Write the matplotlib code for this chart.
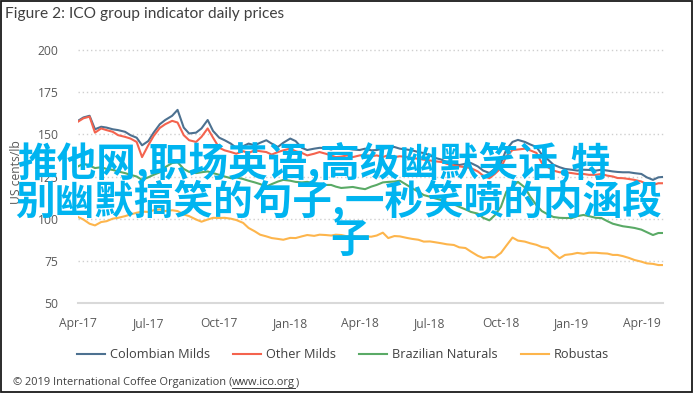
import matplotlib
matplotlib.use("Agg")
import matplotlib.pyplot as plt
import matplotlib.dates as mdates
from matplotlib.lines import Line2D
from matplotlib.patches import Rectangle
import pandas as pd

plt.rcParams['font.family'] = ['Open Sans', 'Noto Sans CJK SC', 'DejaVu Sans']

# ---------------- data ----------------
months = pd.date_range("2017-04-01", "2019-04-01", freq="MS")
days_in_month = [1, 8, 16, 23]
last_date = "2019-04-28"

other_milds = [
    157.5, 159.5, 160.5, 151.0,
    153.5, 152.5, 151.5, 149.5,
    148.5, 147.5, 145.5, 136.5,
    143.5, 149.0, 153.8, 156.0,
    158.0, 157.0, 149.5, 146.5,
    145.5, 148.5, 153.5, 148.0,
    142.0, 140.5, 139.5, 138.5,
    140.0, 139.0, 140.5, 140.0,
    139.5, 138.0, 139.5, 140.5,
    141.5, 140.0, 139.0, 137.5,
    138.5, 139.5, 138.5, 137.5,
    136.5, 136.8, 137.5, 136.5,
    137.5, 137.8, 137.0, 137.5,
    136.6, 137.5, 136.5, 137.0,
    136.6, 136.0, 135.5, 135.0,
    134.5, 134.0, 133.6, 132.5,
    131.5, 131.0, 130.5, 130.0,
    128.0, 125.5, 124.0, 126.5,
    130.0, 137.0, 140.7, 141.0,
    141.5, 140.5, 139.0, 133.0,
    130.5, 128.5, 127.5, 127.5,
    127.0, 126.5, 126.5, 126.0,
    126.0, 126.5, 125.5, 125.0,
    124.1, 124.0, 123.5, 123.0,
    122.0, 120.5, 120.0, 121.0,
    121.0,
]

colombian_milds = [
    158.0, 160.0, 161.0, 153.0,
    154.5, 154.0, 153.0, 152.5,
    151.5, 149.5, 148.0, 143.5,
    146.0, 151.0, 156.0, 158.5,
    161.0, 164.5, 154.0, 150.5,
    151.0, 153.5, 158.5, 152.0,
    148.0, 146.5, 144.5, 142.0,
    143.0, 144.5, 143.5, 145.0,
    146.5, 144.5, 142.5, 145.0,
    147.5, 146.0, 142.0, 140.7,
    141.5, 142.0, 141.9, 141.0,
    142.0, 142.5, 141.5, 141.0,
    140.7, 141.5, 140.5, 140.7,
    141.5, 142.0, 142.5, 141.5,
    141.0, 140.5, 139.5, 138.9,
    137.5, 136.0, 135.0, 133.5,
    132.5, 131.8, 132.5, 133.0,
    131.0, 128.5, 127.1, 129.5,
    133.0, 141.0, 145.5, 146.7,
    145.5, 144.0, 142.5, 138.0,
    135.0, 132.0, 130.5, 129.5,
    129.0, 128.5, 129.0, 128.9,
    128.5, 129.0, 128.5, 128.0,
    127.7, 127.5, 127.5, 127.0,
    126.5, 124.5, 123.0, 124.5,
    124.7,
]

brazilian_naturals = [
    131.0, 132.5, 131.5, 130.0,
    130.5, 129.5, 128.9, 128.0,
    127.0, 126.0, 125.0, 123.0,
    124.5, 126.0, 127.5, 130.5,
    133.0, 133.5, 129.5, 127.7,
    127.0, 127.5, 128.0, 127.0,
    126.0, 125.0, 124.0, 124.5,
    123.5, 122.5, 121.5, 120.5,
    119.0, 120.5, 122.0, 123.0,
    122.5, 121.8, 121.5, 121.8,
    121.0, 120.5, 120.0, 120.0,
    119.0, 118.2, 118.5, 118.8,
    118.0, 117.5, 119.0, 120.0,
    121.5, 121.8, 122.0, 122.5,
    120.0, 118.0, 116.0, 114.0,
    113.0, 112.0, 111.0, 109.5,
    108.5, 107.0, 105.5, 104.0,
    103.0, 100.5, 99.0, 102.0,
    107.0, 116.0, 119.0, 121.8,
    118.5, 113.0, 108.0, 104.5,
    102.5, 101.0, 100.5, 100.4,
    100.4, 101.5, 102.2, 101.5,
    100.5, 100.4, 98.5, 97.0,
    96.3, 95.5, 95.0, 94.5,
    93.5, 92.0, 90.3, 91.5,
    91.5,
]

robustas = [
    101.0, 99.5, 97.0, 96.0,
    98.0, 98.5, 100.0, 100.5,
    101.5, 102.5, 103.5, 104.2,
    104.0, 105.0, 105.5, 104.5,
    105.0, 104.5, 102.5, 101.5,
    99.5, 98.2, 99.5, 100.5,
    100.4, 100.5, 100.0, 99.2,
    97.5, 94.5, 92.5, 90.5,
    89.5, 88.5, 88.0, 87.5,
    88.6, 88.5, 89.5, 90.3,
    89.8, 90.5, 90.3, 90.0,
    90.5, 90.3, 89.5, 89.8,
    89.3, 89.5, 89.3, 90.0,
    91.7, 88.5, 89.7, 89.5,
    88.6, 88.0, 87.5, 86.4,
    86.5, 86.0, 85.4, 84.8,
    84.4, 83.0, 82.6, 80.5,
    78.0, 76.7, 77.3, 77.0,
    79.7, 84.0, 88.8, 87.0,
    86.4, 85.4, 84.5, 83.2,
    82.6, 79.5, 76.5, 78.5,
    79.0, 79.7, 79.2, 79.8,
    79.8, 79.5, 79.3, 78.5,
    78.5, 77.8, 76.7, 75.5,
    74.5, 73.5, 73.2, 72.5,
    72.5,
]

series_names = ["Colombian Milds", "Other Milds", "Brazilian Naturals", "Robustas"]
series_values = [colombian_milds, other_milds, brazilian_naturals, robustas]
series_colors = ["#4d7190", "#f4634e", "#5aaa66", "#fdb54c"]

y_ticks = [50, 75, 100, 125, 150, 175, 200]
x_tick_dates = pd.date_range("2017-04-01", "2019-04-01", freq="3MS")

title = "Figure 2: ICO group indicator daily prices"
y_label = "US cents/lb"
overlay_lines = ["推他网,职场英语,高级幽默笑话,特", "别幽默搞笑的句子,一秒笑喷的内涵段", "子"]
copyright_pre = "© 2019 International Coffee Organization ("
copyright_url = "www.ico.org"
copyright_post = ")"

dates = [m + pd.Timedelta(days=d - 1) for m in months for d in days_in_month]
dates.append(pd.Timestamp(last_date))

# ---------------- figure ----------------
W, H = 695, 394
fig = plt.figure(figsize=(W / 100, H / 100), dpi=100)
fig.patch.set_facecolor("white")

ax = fig.add_axes([78 / W, 1 - 303 / H, (663 - 78) / W, (303 - 50) / H])
for name, vals, col in zip(series_names, series_values, series_colors):
    ax.plot(dates, vals, color=col, lw=1.5, label=name, zorder=3)

ax.set_ylim(50, 200)
ax.set_xlim(pd.Timestamp("2017-04-01"), pd.Timestamp("2019-04-29"))
ax.set_yticks(y_ticks)
ax.set_xticks(x_tick_dates)
ax.xaxis.set_major_formatter(mdates.DateFormatter("%b-%y"))
for s in ax.spines.values():
    s.set_visible(False)
ax.tick_params(axis="both", length=0, labelsize=8.7, labelcolor="#595959")
ax.tick_params(axis="y", pad=14)
ax.tick_params(axis="x", pad=10)
for yv in y_ticks:
    if yv == 50:
        ax.axhline(yv, color="#d9d9d9", lw=1.5, zorder=1, clip_on=False)
    else:
        ax.axhline(yv, color="#cfcfcf", lw=1.0, ls=(0, (1, 2)), zorder=1, clip_on=False)

fig.text(16 / W, 1 - 172 / H, y_label, rotation=90, ha="center", va="center",
         fontsize=8.7, color="#595959")

fig.text(5 / W, 1 - 14 / H, title, ha="left", va="center", fontsize=11.2,
         color="#404040", family=["Lato", "DejaVu Sans"])

handles = [Line2D([], [], color=c, lw=1.5) for c in series_colors]
fig.legend(handles, series_names, loc="center", bbox_to_anchor=(343 / W, 1 - 355 / H),
           ncol=4, frameon=False, fontsize=9.2, handlelength=2.2, handletextpad=0.4,
           columnspacing=1.8, labelcolor="#404040")

# copyright line with underlined url
renderer = fig.canvas.get_renderer()
t1 = fig.text(13 / W, 1 - 383 / H, copyright_pre, ha="left", va="center",
              fontsize=7.9, color="#404040")
bb1 = t1.get_window_extent(renderer)
t2 = fig.text(bb1.x1 / W, 1 - 383 / H, copyright_url, ha="left", va="center",
              fontsize=7.9, color="#404040")
bb2 = t2.get_window_extent(renderer)
fig.text(bb2.x1 / W, 1 - 383 / H, copyright_post, ha="left", va="center",
         fontsize=7.9, color="#404040")
fig.add_artist(Line2D([bb2.x0 / W, bb2.x1 / W], [(bb2.y0 + 1) / H, (bb2.y0 + 1) / H],
                      transform=fig.transFigure, color="#404040", lw=0.7))

# overlay text
overlay_pos = [(17, 163), (15, 201), (330, 240)]
for txt, (px, py) in zip(overlay_lines, overlay_pos):
    fig.text(px / W, 1 - py / H, txt, ha="left", va="center", fontsize=28.5,
             color="#00b4f0", family=["Noto Sans CJK SC", "DejaVu Sans"],
             fontweight="bold", zorder=10)

# outer border
fig.add_artist(Rectangle((0.7 / W, 1 - 392 / H), 691.5 / W, 391 / H,
                         transform=fig.transFigure, fill=False, ec="#1a1a1a", lw=1.3))

fig.savefig("out.png", dpi=100, facecolor="white")
